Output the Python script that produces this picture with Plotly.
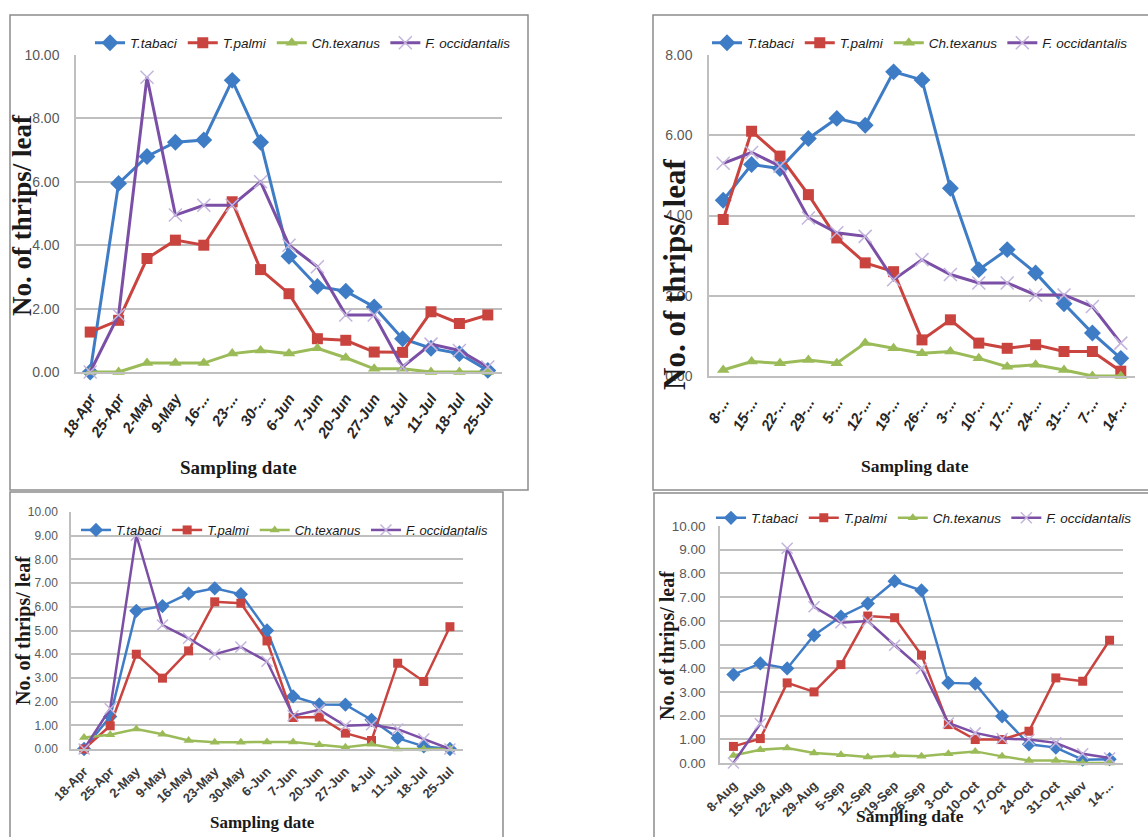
import plotly.graph_objects as go

W, H = 1148, 837

# ---------------- data ----------------
series_names = ["T.tabaci", "T.palmi", "Ch.texanus", "F. occidantalis"]

p1_dates = ["18-Apr", "25-Apr", "2-May", "9-May", "16-...", "23-...", "30-...", "6-Jun",
            "7-Jun", "20-Jun", "27-Jun", "4-Jul", "11-Jul", "18-Jul", "25-Jul"]
p1_tabaci = [0.00, 5.95, 6.80, 7.25, 7.32, 9.20, 7.25, 3.65, 2.70, 2.55, 2.05, 1.05, 0.75, 0.58, 0.05]
p1_palmi = [1.26, 1.63, 3.58, 4.16, 4.00, 5.37, 3.23, 2.47, 1.05, 1.00, 0.63, 0.62, 1.90, 1.53, 1.80]
p1_texanus = [0.00, 0.00, 0.28, 0.28, 0.28, 0.58, 0.68, 0.58, 0.75, 0.45, 0.10, 0.10, 0.00, 0.00, 0.00]
p1_occ = [0.00, 1.80, 9.30, 4.95, 5.26, 5.26, 6.00, 4.00, 3.32, 1.80, 1.80, 0.16, 0.88, 0.68, 0.16]

p2_dates = ["8-...", "15-...", "22-...", "29-...", "5-...", "12-...", "19-...", "26-...",
            "3-...", "10-...", "17-...", "24-...", "31-...", "7-...", "14-..."]
p2_tabaci = [4.38, 5.27, 5.17, 5.92, 6.42, 6.25, 7.58, 7.38, 4.68, 2.65, 3.15, 2.57, 1.80, 1.07, 0.44]
p2_palmi = [3.90, 6.10, 5.48, 4.52, 3.44, 2.82, 2.60, 0.90, 1.40, 0.82, 0.69, 0.78, 0.61, 0.61, 0.12]
p2_texanus = [0.15, 0.36, 0.32, 0.40, 0.32, 0.82, 0.69, 0.57, 0.61, 0.44, 0.23, 0.28, 0.15, 0.00, 0.00]
p2_occ = [5.30, 5.57, 5.23, 3.94, 3.57, 3.48, 2.40, 2.90, 2.53, 2.32, 2.32, 2.02, 2.02, 1.73, 0.82]

p3_dates = ["18-Apr", "25-Apr", "2-May", "9-May", "16-May", "23-May", "30-May", "6-Jun",
            "7-Jun", "20-Jun", "27-Jun", "4-Jul", "11-Jul", "18-Jul", "25-Jul"]
p3_tabaci = [0.00, 1.37, 5.83, 6.03, 6.56, 6.78, 6.53, 5.00, 2.22, 1.88, 1.87, 1.23, 0.46, 0.11, 0.00]
p3_palmi = [0.00, 0.98, 4.00, 2.99, 4.14, 6.21, 6.15, 4.56, 1.33, 1.35, 0.67, 0.36, 3.62, 2.85, 5.16]
p3_texanus = [0.49, 0.60, 0.84, 0.62, 0.36, 0.29, 0.29, 0.30, 0.30, 0.18, 0.07, 0.20, 0.00, 0.00, 0.00]
p3_occ = [0.00, 1.70, 9.02, 5.23, 4.67, 4.00, 4.30, 3.70, 1.40, 1.65, 0.98, 1.02, 0.84, 0.42, 0.00]

p4_dates = ["8-Aug", "15-Aug", "22-Aug", "29-Aug", "5-Sep", "12-Sep", "19-Sep", "26-Sep",
            "3-Oct", "10-Oct", "17-Oct", "24-Oct", "31-Oct", "7-Nov", "14-..."]
p4_tabaci = [3.73, 4.20, 3.99, 5.39, 6.18, 6.73, 7.67, 7.28, 3.38, 3.35, 1.97, 0.79, 0.65, 0.14, 0.16]
p4_palmi = [0.70, 1.03, 3.38, 3.00, 4.15, 6.20, 6.13, 4.55, 1.62, 0.99, 0.99, 1.34, 3.59, 3.45, 5.18]
p4_texanus = [0.32, 0.56, 0.63, 0.42, 0.35, 0.25, 0.32, 0.28, 0.39, 0.49, 0.28, 0.11, 0.11, 0.00, 0.00]
p4_occ = [0.00, 1.66, 9.06, 6.59, 5.92, 5.99, 4.97, 3.99, 1.69, 1.27, 1.03, 0.99, 0.85, 0.39, 0.21]

y_title = "No. of thrips/ leaf"
x_title = "Sampling date"

# ---------------- styling ----------------
COLORS = ["#3F7CC6", "#C9433F", "#9BBB59", "#7B4FA6"]
SANS = "Liberation Sans, Arial, sans-serif"
SERIF = "Liberation Serif, Times New Roman, serif"


def X(px):
    return px / W


def Y(py):
    return 1 - py / H


panels = [
    dict(dates=p1_dates, data=[p1_tabaci, p1_palmi, p1_texanus, p1_occ],
         box=(76, 502, 55, 372), yr=(0, 10), dtick=2, lw=3, ms=11,
         ytick_size=14, xtick=dict(size=15, color="#262626", weight="bold", style="italic"), xangle=-57,
         xstand=10, ystand=12,
         ytitle=dict(x=22, y=215, size=27), xtitle=dict(x=238, y=468, size=19),
         legend=dict(x=90, y=43, size=13.5), border=(10, 528, 15, 490)),
    dict(dates=p2_dates, data=[p2_tabaci, p2_palmi, p2_texanus, p2_occ],
         box=(709, 1135, 55, 376), yr=(0, 8), dtick=2, lw=3, ms=11,
         ytick_size=14, xtick=dict(size=15, color="#262626", weight="bold", style="italic"), xangle=-60,
         xstand=10, ystand=12,
         ytitle=dict(x=675, y=275, size=31), xtitle=dict(x=915, y=466, size=17.5),
         legend=dict(x=707, y=43, size=13.5), border=(653, 1160, 15, 490)),
    dict(dates=p3_dates, data=[p3_tabaci, p3_palmi, p3_texanus, p3_occ],
         box=(71, 463, 512, 749), yr=(0, 10), dtick=1, lw=2.5, ms=9,
         ytick_size=12, xtick=dict(size=13, color="#3a3a3a", weight="bold", style="normal"), xangle=-45,
         xstand=8, ystand=9,
         ytitle=dict(x=23, y=631, size=20), xtitle=dict(x=262, y=822, size=17),
         legend=dict(x=76, y=530, size=13), border=(10, 503, 492, 850)),
    dict(dates=p4_dates, data=[p4_tabaci, p4_palmi, p4_texanus, p4_occ],
         box=(720, 1123, 526, 763), yr=(0, 10), dtick=1, lw=2.5, ms=9,
         ytick_size=13.5, xtick=dict(size=13, color="#3a3a3a", weight="bold", style="normal"), xangle=-45,
         xstand=8, ystand=10,
         ytitle=dict(x=667, y=645, size=20), xtitle=dict(x=910, y=816, size=17.5),
         legend=dict(x=711, y=518, size=13.5), border=(654, 1160, 493, 850)),
]

fig = go.Figure()
annotations = []
shapes = []
layout = {}

for i, p in enumerate(panels):
    n = "" if i == 0 else str(i + 1)
    xa, ya = "x" + n, "y" + n
    leg = "legend" + n
    for k in range(4):
        color = COLORS[k]
        if k == 0:
            marker = dict(symbol="diamond", size=p["ms"] + 2, color=color)
        elif k == 1:
            marker = dict(symbol="square", size=p["ms"], color=color)
        elif k == 2:
            marker = dict(symbol="triangle-up", size=p["ms"], color=color)
        else:
            marker = dict(symbol="x-thin-open", size=p["ms"] + 2, color="#C3B4DD",
                          line=dict(color="#C3B4DD", width=1.5))
        fig.add_trace(go.Scatter(
            x=p["dates"], y=p["data"][k], name="<i>" + series_names[k] + "</i>",
            mode="lines+markers", line=dict(color=color, width=p["lw"]),
            marker=marker, xaxis=xa, yaxis=ya, legend=leg, cliponaxis=False,
        ))
    x0, x1, y0, y1 = p["box"]
    layout["xaxis" + n] = dict(
        domain=[X(x0), X(x1)], anchor=ya, type="category", range=[-0.5, 14.5],
        showgrid=False, showline=True, linecolor="#BFBFBF", linewidth=1.5,
        tickangle=p["xangle"], tickfont=dict(family=SANS, **p["xtick"]),
        ticklabelstandoff=p["xstand"], fixedrange=True, automargin=False,
    )
    layout["yaxis" + n] = dict(
        domain=[Y(y1), Y(y0)], anchor=xa, range=list(p["yr"]), dtick=p["dtick"],
        tickformat=".2f", showgrid=True, gridcolor="#BFBFBF", gridwidth=1.5,
        zeroline=False, showline=True, linecolor="#BFBFBF", linewidth=1.5,
        tickfont=dict(family=SANS, size=p["ytick_size"], color="#595959"),
        ticklabelstandoff=p["ystand"], fixedrange=True, automargin=False,
    )
    lg = p["legend"]
    layout[leg] = dict(
        orientation="h", x=X(lg["x"]), y=Y(lg["y"]), xanchor="left", yanchor="middle",
        bgcolor="rgba(0,0,0,0)", font=dict(family=SANS, size=lg["size"], color="#1a1a1a"),
        itemwidth=30, tracegroupgap=0,
    )
    annotations.append(dict(
        text="<b>" + y_title + "</b>", x=X(p["ytitle"]["x"]), y=Y(p["ytitle"]["y"]),
        xref="paper", yref="paper", textangle=-90, showarrow=False,
        xanchor="center", yanchor="middle",
        font=dict(family=SERIF, size=p["ytitle"]["size"], color="#1a1a1a"),
    ))
    annotations.append(dict(
        text="<b>" + x_title + "</b>", x=X(p["xtitle"]["x"]), y=Y(p["xtitle"]["y"]),
        xref="paper", yref="paper", showarrow=False,
        xanchor="center", yanchor="middle",
        font=dict(family=SERIF, size=p["xtitle"]["size"], color="#1a1a1a"),
    ))
    bx0, bx1, by0, by1 = p["border"]
    shapes.append(dict(type="rect", xref="paper", yref="paper",
                       x0=X(bx0), x1=X(bx1), y0=Y(by1), y1=Y(by0),
                       line=dict(color="#8C8C8C", width=1.5), layer="below"))

fig.update_layout(
    width=W, height=H, margin=dict(l=0, r=0, t=0, b=0, autoexpand=False),
    paper_bgcolor="white", plot_bgcolor="rgba(0,0,0,0)",
    annotations=annotations, shapes=shapes, **layout,
)

fig.write_html("out.html", config={"displayModeBar": False},
               post_script="document.body.style.margin='0';document.body.style.overflow='hidden';")
